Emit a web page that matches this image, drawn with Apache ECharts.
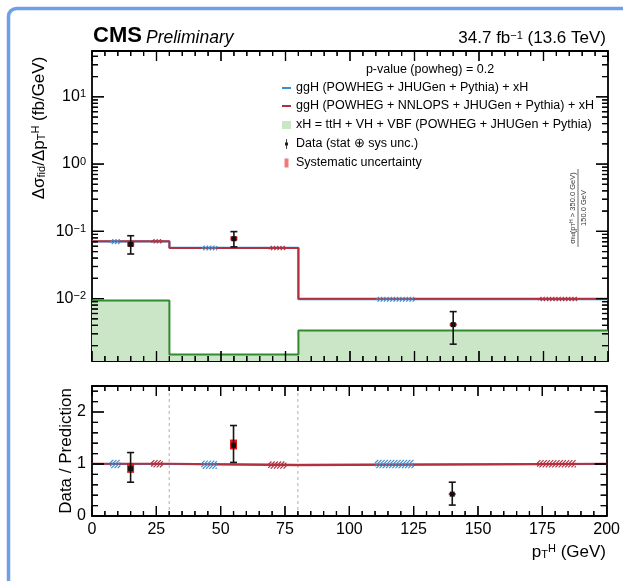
<!DOCTYPE html>
<html>
<head>
<meta charset="utf-8">
<script src="https://cdn.jsdelivr.net/npm/echarts@6/dist/echarts.min.js"></script>
<style>
  html, body { margin: 0; padding: 0; background: #fff; }
  #chart { width: 623px; height: 581px; }
</style>
</head>
<body>
<div id="chart"></div>
<script>
// Bin edges of the Higgs transverse momentum (GeV)
const binEdges = [0, 30, 80, 200];

// Predicted differential fiducial cross sections per bin (fb/GeV)
const predPowheg = [0.0705, 0.0568, 0.0098];
const predNnlops = [0.0712, 0.0565, 0.0099];
const predXH = [0.0094, 0.00148, 0.00336];

// Measurement: bin centres, values, total and systematic intervals (fb/GeV)
const dataX = [15, 55, 140];
const dataVal = [0.064, 0.0775, 0.0041];
const dataLo = [0.046, 0.0587, 0.0021];
const dataHi = [0.086, 0.099, 0.0064];
const sysLo = [0.059, 0.073, 0.0039];
const sysHi = [0.072, 0.084, 0.0043];

// Ratio panel: predictions and data divided by the POWHEG prediction
const ratioPowheg = [1.0, 0.985, 1.0];
const ratioNnlops = [1.005, 0.98, 1.005];
const ratioVal = [0.91, 1.36, 0.42];
const ratioLo = [0.65, 1.03, 0.21];
const ratioHi = [1.22, 1.74, 0.65];
const ratioSysLo = [0.83, 1.28, 0.40];
const ratioSysHi = [1.02, 1.47, 0.44];

// Theory uncertainty bands, drawn hatched over part of each bin
const hatchPowhegX = [[7, 11], [42.5, 48.5], [110, 125]];
const hatchNnlopsX = [[23, 27.5], [68.5, 75.5], [173, 188]];
const hatchPowhegUnc = [0.08, 0.08, 0.08];
const hatchNnlopsUnc = [0.07, 0.07, 0.07];

// Axis ranges and tick values
const xMin = 0, xMax = 200;
const xMajor = [0, 25, 50, 75, 100, 125, 150, 175, 200];
const xMinorStep = 5;
const yTopMin = 0.00118, yTopMax = 48;
const yTopMajor = [0.01, 0.1, 1, 10];
const yRatioMin = 0, yRatioMax = 2.5;
const yRatioMajor = [0, 1, 2];
const yRatioMinor = [0.2, 0.4, 0.6, 0.8, 1.2, 1.4, 1.6, 1.8, 2.2, 2.4];

const FONT = "'Liberation Sans', Arial, Helvetica, sans-serif";
const BLUE = '#3d8ed0';
const RED = '#b3303f';
const GREEN_LINE = '#2e8b2e';
const GREEN_FILL = '#cbe6c6';
const FRAME = '#000';

// log-axis minor ticks at 2..9 of every decade
const yTopMinor = [];
for (let e = -3; e <= 1; e++) {
  for (let m = 2; m <= 9; m++) {
    const v = +(m * Math.pow(10, e)).toPrecision(3);
    if (v > yTopMin && v < yTopMax) yTopMinor.push(v);
  }
}
const xMinor = [];
for (let v = xMin + xMinorStep; v < xMax; v += xMinorStep) {
  if (xMajor.indexOf(v) < 0) xMinor.push(v);
}

function stepPoints(vals) {
  const pts = [];
  vals.forEach((v, i) => { pts.push([binEdges[i], v]); pts.push([binEdges[i + 1], v]); });
  return pts;
}

function bandData(ranges, centre, unc) {
  return ranges.map((r, i) => [r[0], r[1], centre[i] * (1 - unc[i]), centre[i] * (1 + unc[i])]);
}

function pointData(x, v, lo, hi, sl, sh) {
  return x.map((xi, i) => [xi, v[i], lo[i], hi[i], sl[i], sh[i]]);
}

// tick anchors on the panel frame: [x, y, side (0 bottom, 1 top, 2 left, 3 right), major flag]
function frameTicks(yLo, yHi, yMajor, yMinor) {
  const t = [];
  xMajor.forEach(v => { t.push([v, yLo, 0, 1]); t.push([v, yHi, 1, 1]); });
  xMinor.forEach(v => { t.push([v, yLo, 0, 0]); t.push([v, yHi, 1, 0]); });
  yMajor.forEach(v => { t.push([xMin, v, 2, 1]); t.push([xMax, v, 3, 1]); });
  yMinor.forEach(v => { t.push([xMin, v, 2, 0]); t.push([xMax, v, 3, 0]); });
  return t;
}

const tickDir = [[0, -1], [0, 1], [1, 0], [-1, 0]];
const tickLength = (side, major) => side < 2 ? (major ? 10 : 5) : (major ? 12 : 6);

// ticks drawn as thin rectangle symbols pushed inside the frame
function tickSymbols(ticks) {
  return ticks.map(t => {
    const side = t[2], len = tickLength(side, t[3]), d = tickDir[side];
    return {
      value: [t[0], t[1]],
      symbolSize: side < 2 ? [1.2, len] : [len, 1.2],
      symbolOffset: [d[0] * len / 2, d[1] * len / 2]
    };
  });
}

function tickRenderer(params, api) {
  const p = api.coord([api.value(0), api.value(1)]);
  const side = api.value(2), major = api.value(3);
  const len = tickLength(side, major);
  const d = tickDir[side];
  return { type: 'group', children: [{ type: 'line',
    shape: { x1: p[0], y1: p[1], x2: p[0] + d[0] * len, y2: p[1] + d[1] * len },
    style: { stroke: FRAME, lineWidth: 1.2 } }] };
}

// dashed separators at the inner bin edges of the ratio panel
function edgeRenderer(params, api) {
  const a = api.coord([api.value(0), yRatioMin]);
  const b = api.coord([api.value(0), yRatioMax]);
  return { type: 'line', shape: { x1: a[0], y1: a[1], x2: b[0], y2: b[1] },
    style: { stroke: '#b0b0b0', lineWidth: 1, lineDash: [3, 3] } };
}

// diagonal hatching clipped to the band rectangle
function hatchRenderer(color) {
  return function (params, api) {
    const pTop = api.coord([api.value(0), api.value(3)]);
    const pBot = api.coord([api.value(1), api.value(2)]);
    const x0 = pTop[0], yT = pTop[1], x1 = pBot[0], yB = pBot[1];
    const h = yB - yT;
    const children = [];
    const step = 3.2;
    for (let c = x0 - h; c < x1; c += step) {
      let sx = c, sy = yB, ex = c + h, ey = yT;
      if (sx < x0) { sy = yB - (x0 - c); sx = x0; }
      if (ex > x1) { ey = yB - (x1 - c); ex = x1; }
      if (ex - sx < 0.3) continue;
      children.push({ type: 'line', shape: { x1: sx, y1: sy, x2: ex, y2: ey },
        style: { stroke: color, lineWidth: 1.2 } });
    }
    return { type: 'group', children };
  };
}

// data point: systematic box, total error bar with caps, square marker
function pointRenderer(params, api) {
  const x = api.value(0);
  const c = api.coord([x, api.value(1)]);
  const lo = api.coord([x, api.value(2)]);
  const hi = api.coord([x, api.value(3)]);
  const sl = api.coord([x, api.value(4)]);
  const sh = api.coord([x, api.value(5)]);
  const cap = 3.5;
  const line = { stroke: '#151515', lineWidth: 1.6 };
  return { type: 'group', children: [
    { type: 'rect', shape: { x: c[0] - 3.5, y: sh[1], width: 7, height: Math.max(sl[1] - sh[1], 1) },
      style: { fill: '#e3161e' } },
    { type: 'line', shape: { x1: c[0], y1: lo[1], x2: c[0], y2: hi[1] }, style: line },
    { type: 'line', shape: { x1: c[0] - cap, y1: lo[1], x2: c[0] + cap, y2: lo[1] }, style: line },
    { type: 'line', shape: { x1: c[0] - cap, y1: hi[1], x2: c[0] + cap, y2: hi[1] }, style: line },
    { type: 'rect', shape: { x: c[0] - 2.5, y: c[1] - 2.5, width: 5, height: 5 }, style: { fill: '#111' } }
  ] };
}

function axisLine() { return { show: true, onZero: false, lineStyle: { color: FRAME, width: 1.8 } }; }

function xAxisDef(gridIndex, position, withLabels) {
  return {
    type: 'value', gridIndex, position, min: xMin, max: xMax, interval: 25,
    axisLine: axisLine(), axisTick: { show: false }, splitLine: { show: false },
    axisLabel: withLabels ? {
      show: true, customValues: xMajor.slice(), margin: 6, color: '#000',
      fontFamily: FONT, fontSize: 16
    } : { show: false }
  };
}

const supFormat = v => {
  const e = Math.round(Math.log10(v));
  return '10{sup|' + (e < 0 ? '\u2212' + (-e) : e) + '}';
};

function logAxisDef(position, withLabels) {
  return {
    type: 'log', logBase: 10, gridIndex: 0, position, min: yTopMin, max: yTopMax,
    axisLine: axisLine(), axisTick: { show: false }, splitLine: { show: false },
    axisLabel: withLabels ? {
      show: true, customValues: yTopMajor.slice(), margin: 6, formatter: supFormat, color: '#000',
      fontFamily: FONT, fontSize: 16,
      rich: { sup: { fontSize: 11, fontFamily: FONT, verticalAlign: 'top', lineHeight: 10, color: '#000' } }
    } : { show: false }
  };
}

function ratioAxisDef(position, withLabels) {
  return {
    type: 'value', gridIndex: 1, position, min: yRatioMin, max: yRatioMax,
    axisLine: axisLine(), axisTick: { show: false }, splitLine: { show: false },
    axisLabel: withLabels ? {
      show: true, customValues: yRatioMajor.slice(), margin: 6, color: '#000',
      fontFamily: FONT, fontSize: 16
    } : { show: false }
  };
}

const richSub = () => ({ fontSize: 11, fontFamily: FONT, verticalAlign: 'bottom', lineHeight: 14, color: '#000' });
const richSup = () => ({ fontSize: 11, fontFamily: FONT, verticalAlign: 'top', lineHeight: 14, color: '#000' });

const legendRows = [
  { y: 88, text: 'ggH (POWHEG + JHUGen + Pythia) + xH' },
  { y: 106, text: 'ggH (POWHEG + NNLOPS + JHUGen + Pythia) + xH' },
  { y: 125, text: 'xH = ttH + VH + VBF (POWHEG + JHUGen + Pythia)' },
  { y: 144, text: 'Data (stat \u2295 sys unc.)' },
  { y: 163, text: 'Systematic uncertainty' }
];

const graphics = [
  // figure border
  { type: 'rect', z: 100,
    shape: { x: 8.5, y: 8.5, width: 680, height: 640, r: 8 },
    style: { fill: 'transparent', stroke: '#6f9fe9', lineWidth: 3.5 } },
  { type: 'text', x: 93, y: 47, style: { text: 'CMS', fontFamily: FONT, fontWeight: 'bold',
    fontSize: 22, fill: '#000', verticalAlign: 'bottom' } },
  { type: 'text', x: 146, y: 47, style: { text: 'Preliminary', fontFamily: FONT, fontStyle: 'italic',
    fontSize: 17.5, fill: '#000', verticalAlign: 'bottom' } },
  { type: 'text', x: 606, y: 47, style: { text: '34.7 fb{sup|\u22121} (13.6 TeV)', fontFamily: FONT,
    fontSize: 17, fill: '#000', align: 'right', verticalAlign: 'bottom',
    rich: { sup: { fontSize: 11, fontFamily: FONT, verticalAlign: 'top', lineHeight: 12, fill: '#000' } } } },
  // legend
  { type: 'text', x: 430, y: 70, style: { text: 'p-value (powheg) = 0.2', fontFamily: FONT,
    fontSize: 12.5, fill: '#000', align: 'center', verticalAlign: 'middle' } },
  { type: 'line', shape: { x1: 282, y1: 88, x2: 291, y2: 88 }, style: { stroke: BLUE, lineWidth: 2 } },
  { type: 'line', shape: { x1: 282, y1: 106, x2: 291, y2: 106 }, style: { stroke: RED, lineWidth: 2 } },
  { type: 'rect', shape: { x: 282, y: 121, width: 9, height: 8 }, style: { fill: GREEN_FILL } },
  { type: 'line', shape: { x1: 286.5, y1: 139, x2: 286.5, y2: 149 }, style: { stroke: '#444', lineWidth: 1 } },
  { type: 'rect', shape: { x: 285, y: 142.5, width: 3, height: 3 }, style: { fill: '#222' } },
  { type: 'rect', shape: { x: 284.5, y: 158.5, width: 4, height: 9 }, style: { fill: '#f07a7a' } },
  // rotated side annotation
  { type: 'group', x: 578, y: 208, rotation: Math.PI / 2, children: [
    { type: 'text', x: 0, y: -1.5, style: { text: '\u03c3{sub|fid}(p{sub|T}{sup|H} > 350.0 GeV)',
      fontFamily: FONT, fontSize: 7.5, fill: '#333', align: 'center', verticalAlign: 'bottom',
      rich: { sub: { fontSize: 5.5, verticalAlign: 'bottom', fill: '#333' },
              sup: { fontSize: 5.5, verticalAlign: 'top', fill: '#333' } } } },
    { type: 'line', shape: { x1: -39, y1: 0, x2: 39, y2: 0 }, style: { stroke: '#444', lineWidth: 0.8 } },
    { type: 'text', x: 0, y: 1.5, style: { text: '150.0 GeV', fontFamily: FONT, fontSize: 7.5,
      fill: '#333', align: 'center', verticalAlign: 'top' } }
  ] },
  // axis titles
  { type: 'text', x: 39, y: 128, rotation: Math.PI / 2, style: {
    text: '\u0394\u03c3{sub|fid}/\u0394p{sub|T}{sup|H} (fb/GeV)', fontFamily: FONT, fontSize: 17,
    fill: '#000', align: 'center', verticalAlign: 'middle',
    rich: { sub: richSub(), sup: richSup() } } },
  { type: 'text', x: 66, y: 451, rotation: Math.PI / 2, style: {
    text: 'Data / Prediction', fontFamily: FONT, fontSize: 17, fill: '#000',
    align: 'center', verticalAlign: 'middle' } },
  { type: 'text', x: 606, y: 552, style: {
    text: 'p{sub|T}{sup|H} (GeV)', fontFamily: FONT, fontSize: 17, fill: '#000',
    align: 'right', verticalAlign: 'middle', rich: { sub: richSub(), sup: richSup() } } }
];
legendRows.forEach(r => graphics.push({ type: 'text', x: 296, y: r.y, style: {
  text: r.text, fontFamily: FONT, fontSize: 12.5, fill: '#000', verticalAlign: 'middle' } }));

const topTicks = frameTicks(yTopMin, yTopMax, yTopMajor, yTopMinor);
const ratioTicks = frameTicks(yRatioMin, yRatioMax, yRatioMajor, yRatioMinor);

const option = {
  animation: false,
  grid: [
    { left: 92, top: 51, width: 516, height: 310 },
    { left: 92, top: 386, width: 516, height: 130 }
  ],
  xAxis: [
    xAxisDef(0, 'bottom', false),
    xAxisDef(0, 'top', false),
    xAxisDef(1, 'bottom', true),
    xAxisDef(1, 'top', false)
  ],
  yAxis: [
    logAxisDef('left', true),
    logAxisDef('right', false),
    ratioAxisDef('left', true),
    ratioAxisDef('right', false)
  ],
  graphic: graphics,
  series: [
    { type: 'line', xAxisIndex: 0, yAxisIndex: 0, data: stepPoints(predXH),
      showSymbol: false, lineStyle: { color: GREEN_LINE, width: 2 },
      areaStyle: { color: GREEN_FILL, opacity: 1, origin: 'start' }, z: 1 },
    { type: 'line', xAxisIndex: 0, yAxisIndex: 0, data: stepPoints(predPowheg),
      showSymbol: false, lineStyle: { color: BLUE, width: 2 }, z: 2 },
    { type: 'line', xAxisIndex: 0, yAxisIndex: 0, data: stepPoints(predNnlops),
      showSymbol: false, lineStyle: { color: RED, width: 2 }, z: 3 },
    { type: 'custom', xAxisIndex: 0, yAxisIndex: 0, renderItem: hatchRenderer(BLUE),
      data: bandData(hatchPowhegX, predPowheg, hatchPowhegUnc), encode: { x: [0, 1], y: [2, 3] }, z: 4 },
    { type: 'custom', xAxisIndex: 0, yAxisIndex: 0, renderItem: hatchRenderer(RED),
      data: bandData(hatchNnlopsX, predNnlops, hatchNnlopsUnc), encode: { x: [0, 1], y: [2, 3] }, z: 4 },
    { type: 'custom', xAxisIndex: 0, yAxisIndex: 0, renderItem: pointRenderer,
      data: pointData(dataX, dataVal, dataLo, dataHi, sysLo, sysHi),
      encode: { x: 0, y: [1, 2, 3] }, z: 6 },
    { type: 'scatter', xAxisIndex: 0, yAxisIndex: 0, symbol: 'rect', clip: false, silent: true,
      itemStyle: { color: FRAME, opacity: 1 }, data: tickSymbols(topTicks), z: 9 },
    { type: 'custom', xAxisIndex: 0, yAxisIndex: 0, renderItem: tickRenderer, clip: false,
      data: topTicks, encode: { x: 0, y: 1 }, z: 8 },

    { type: 'custom', xAxisIndex: 2, yAxisIndex: 2, renderItem: edgeRenderer,
      data: binEdges.slice(1, -1).map(e => [e, 1]), encode: { x: 0, y: 1 }, z: 1 },
    { type: 'line', xAxisIndex: 2, yAxisIndex: 2, data: stepPoints(ratioPowheg),
      showSymbol: false, lineStyle: { color: BLUE, width: 2.2 }, z: 2 },
    { type: 'line', xAxisIndex: 2, yAxisIndex: 2, data: stepPoints(ratioNnlops),
      showSymbol: false, lineStyle: { color: RED, width: 2.2 }, z: 3 },
    { type: 'custom', xAxisIndex: 2, yAxisIndex: 2, renderItem: hatchRenderer(BLUE),
      data: bandData(hatchPowhegX, ratioPowheg, hatchPowhegUnc), encode: { x: [0, 1], y: [2, 3] }, z: 4 },
    { type: 'custom', xAxisIndex: 2, yAxisIndex: 2, renderItem: hatchRenderer(RED),
      data: bandData(hatchNnlopsX, ratioNnlops, hatchNnlopsUnc), encode: { x: [0, 1], y: [2, 3] }, z: 4 },
    { type: 'custom', xAxisIndex: 2, yAxisIndex: 2, renderItem: pointRenderer,
      data: pointData(dataX, ratioVal, ratioLo, ratioHi, ratioSysLo, ratioSysHi),
      encode: { x: 0, y: [1, 2, 3] }, z: 6 },
    { type: 'scatter', xAxisIndex: 2, yAxisIndex: 2, symbol: 'rect', clip: false, silent: true,
      itemStyle: { color: FRAME, opacity: 1 }, data: tickSymbols(ratioTicks), z: 9 },
    { type: 'custom', xAxisIndex: 2, yAxisIndex: 2, renderItem: tickRenderer, clip: false,
      data: ratioTicks, encode: { x: 0, y: 1 }, z: 8 }
  ]
};

const chart = echarts.init(document.getElementById('chart'));
chart.setOption(option);
</script>
</body>
</html>
